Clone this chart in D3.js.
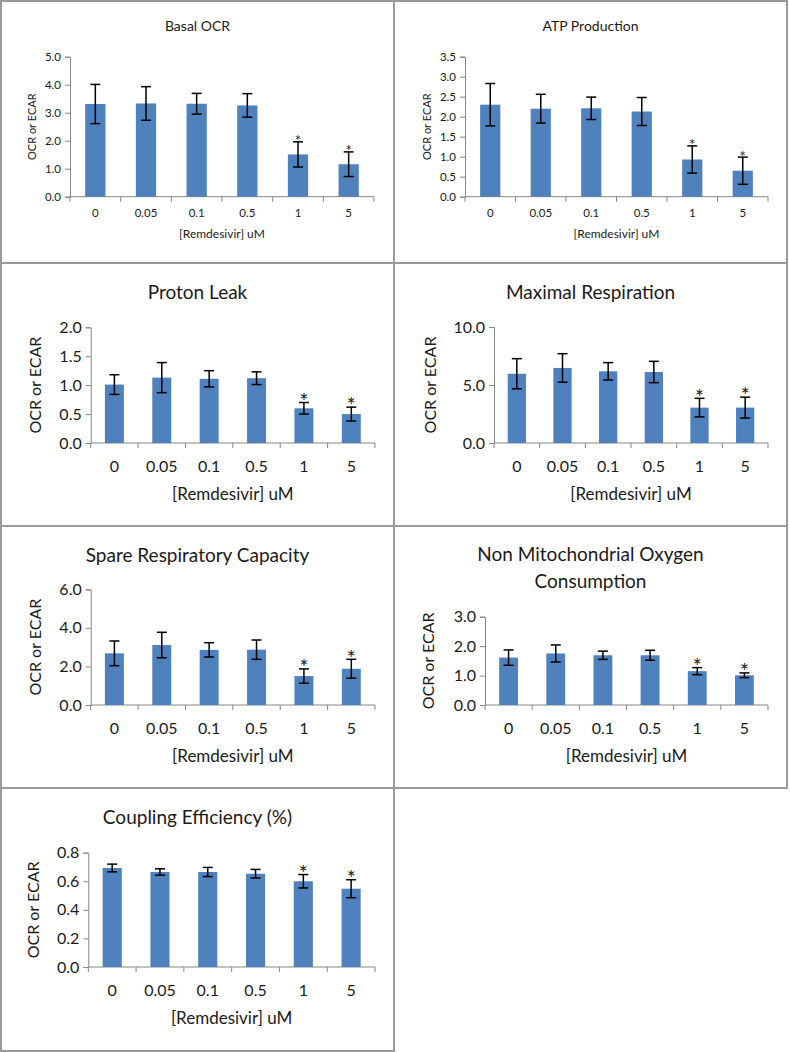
<!DOCTYPE html>
<html>
<head>
<meta charset="utf-8">
<script src="https://cdn.jsdelivr.net/npm/d3@7"></script>
<style>
  body { margin: 0; background: #fff; }
  svg { display: block; }
  text { font-family: Lato, "Open Sans", sans-serif; fill: #1a1a1a; }
</style>
</head>
<body>
<svg id="chart" width="790" height="1052"></svg>
<script>
// categories
const doses = ["0", "0.05", "0.1", "0.5", "1", "5"];
const significant = [false, false, false, false, true, true];

// values (mean and error)
const basalOcr = [3.31, 3.33, 3.32, 3.26, 1.51, 1.16];
const basalOcrErr = [0.70, 0.60, 0.37, 0.42, 0.45, 0.44];

const atpProduction = [2.30, 2.20, 2.21, 2.13, 0.93, 0.65];
const atpProductionErr = [0.53, 0.36, 0.28, 0.35, 0.34, 0.34];

const protonLeak = [1.01, 1.13, 1.11, 1.12, 0.60, 0.50];
const protonLeakErr = [0.17, 0.26, 0.14, 0.11, 0.10, 0.12];

const maximalResp = [5.97, 6.47, 6.18, 6.12, 3.05, 3.05];
const maximalRespErr = [1.30, 1.23, 0.75, 0.92, 0.80, 0.90];

const spareCapacity = [2.68, 3.11, 2.86, 2.87, 1.50, 1.88];
const spareCapacityErr = [0.64, 0.66, 0.37, 0.50, 0.37, 0.49];

const nonMito = [1.61, 1.75, 1.69, 1.69, 1.15, 1.01];
const nonMitoErr = [0.26, 0.29, 0.14, 0.17, 0.12, 0.08];

const coupling = [0.693, 0.665, 0.665, 0.653, 0.600, 0.548];
const couplingErr = [0.027, 0.022, 0.032, 0.030, 0.047, 0.063];

// tick labels
const basalTicks = [0, 1, 2, 3, 4, 5];
const atpTicks = [0, 0.5, 1, 1.5, 2, 2.5, 3, 3.5];
const leakTicks = [0, 0.5, 1, 1.5, 2];
const maxTicks = [0, 5, 10];
const spareTicks = [0, 2, 4, 6];
const nonMitoTicks = [0, 1, 2, 3];
const couplingTicks = [0, 0.2, 0.4, 0.6, 0.8];

const xTitle = "[Remdesivir] uM";
const yTitle = "OCR or ECAR";

const small = { title: 14, tick: 11.5, axis: 12, ytitle: 11, star: 15, tickGap: 16.5, xtitleGap: 37.5, cap: 5 };
const large = { title: 19, tick: 16, axis: 17, ytitle: 16, star: 21, tickGap: 23, xtitleGap: 51, cap: 5 };

const panels = [
  { title: ["Basal OCR"], values: basalOcr, err: basalOcrErr, ticks: basalTicks,
    box: [1, 1, 394, 263], plot: [70, 374, 196.7, 56.7], ytx: 32, tty: 26, st: small },
  { title: ["ATP Production"], values: atpProduction, err: atpProductionErr, ticks: atpTicks,
    box: [394, 1, 787, 263], plot: [465, 768, 196.7, 56.7], ytx: 427, tty: 26, st: small },
  { title: ["Proton Leak"], values: protonLeak, err: protonLeakErr, ticks: leakTicks,
    box: [1, 263, 394, 526], plot: [90.7, 375, 443, 327.3], ytx: 35, tty: 292, st: large },
  { title: ["Maximal Respiration"], values: maximalResp, err: maximalRespErr, ticks: maxTicks,
    box: [394, 263, 787, 526], plot: [494, 768, 443, 327], ytx: 430, tty: 292, st: large },
  { title: ["Spare Respiratory Capacity"], values: spareCapacity, err: spareCapacityErr, ticks: spareTicks,
    box: [1, 526, 394, 788], plot: [90.7, 375, 705, 589.3], ytx: 35, tty: 555.7, st: large },
  { title: ["Non Mitochondrial Oxygen", "Consumption"], values: nonMito, err: nonMitoErr, ticks: nonMitoTicks,
    box: [394, 526, 787, 788], plot: [485, 768, 705, 616.7], ytx: 428, tty: 554.3, st: large },
  { title: ["Coupling Efficiency (%)"], values: coupling, err: couplingErr, ticks: couplingTicks,
    box: [1, 788, 394, 1051], plot: [88.3, 375, 967, 852.7], ytx: 33, tty: 817.7, st: large }
];

const svg = d3.select("#chart");

function drawPanel(p) {
  const g = svg.append("g");
  const [bx0, by0, bx1, by1] = p.box;
  const [x0, x1, y0, y1] = p.plot;
  const st = p.st;

  g.append("rect")
    .attr("x", bx0).attr("y", by0)
    .attr("width", bx1 - bx0).attr("height", by1 - by0)
    .attr("fill", "none")
    .attr("stroke", "#9a9a9a")
    .attr("stroke-width", 2);

  const x = d3.scaleBand().domain(doses).range([x0, x1]).paddingInner(0.6).paddingOuter(0.3);
  const y = d3.scaleLinear().domain([0, d3.max(p.ticks)]).range([y0, y1]);

  // title
  g.append("text")
    .attr("x", (bx0 + bx1) / 2)
    .attr("y", p.tty)
    .attr("text-anchor", "middle")
    .attr("font-size", st.title)
    .selectAll("tspan")
    .data(p.title)
    .join("tspan")
      .attr("x", (bx0 + bx1) / 2)
      .attr("dy", (d, i) => i === 0 ? "0.35em" : "1.4em")
      .text(d => d);

  // y axis
  const yAxis = g.append("g")
    .attr("transform", `translate(${x0},0)`)
    .call(d3.axisLeft(y).tickValues(p.ticks).tickFormat(d3.format(".1f")).tickSize(5).tickPadding(4));
  yAxis.select(".domain").attr("stroke", "#868686");
  yAxis.selectAll(".tick line").attr("stroke", "#868686");
  yAxis.selectAll(".tick text")
    .attr("font-size", st.tick)
    .attr("font-family", "Lato")
    .attr("fill", "#1a1a1a");

  // x axis: line with ticks at category boundaries
  const bounds = d3.range(doses.length + 1).map(i => x0 + i * x.step());
  g.append("line")
    .attr("x1", x0).attr("x2", x1)
    .attr("y1", y0).attr("y2", y0)
    .attr("stroke", "#868686");
  g.selectAll(".xtick")
    .data(bounds)
    .join("line")
      .attr("x1", d => d).attr("x2", d => d)
      .attr("y1", y0).attr("y2", y0 + 5)
      .attr("stroke", "#868686");
  g.selectAll(".xlabel")
    .data(doses)
    .join("text")
      .attr("x", d => x(d) + x.bandwidth() / 2)
      .attr("y", y0 + st.tickGap)
      .attr("dy", "0.35em")
      .attr("text-anchor", "middle")
      .attr("font-size", st.tick)
      .text(d => d);

  // bars
  g.selectAll(".bar")
    .data(p.values)
    .join("rect")
      .attr("x", (d, i) => x(doses[i]))
      .attr("y", d => y(d))
      .attr("width", x.bandwidth())
      .attr("height", d => y0 - y(d))
      .attr("fill", "#4f81bd");

  // error bars
  const eb = g.selectAll(".err")
    .data(p.values.map((v, i) => ({ v, e: p.err[i], cx: x(doses[i]) + x.bandwidth() / 2, sig: significant[i] })))
    .join("g");
  eb.append("line")
    .attr("x1", d => d.cx).attr("x2", d => d.cx)
    .attr("y1", d => y(d.v + d.e)).attr("y2", d => y(d.v - d.e))
    .attr("stroke", "#000").attr("stroke-width", 1.5);
  eb.selectAll(".cap")
    .data(d => [d.v + d.e, d.v - d.e].map(t => ({ t, cx: d.cx })))
    .join("line")
      .attr("x1", d => d.cx - st.cap).attr("x2", d => d.cx + st.cap)
      .attr("y1", d => y(d.t)).attr("y2", d => y(d.t))
      .attr("stroke", "#000").attr("stroke-width", 1.5);
  eb.filter(d => d.sig)
    .append("text")
      .attr("x", d => d.cx)
      .attr("y", d => y(d.v + d.e) + st.star * 0.3)
      .attr("text-anchor", "middle")
      .attr("font-size", st.star)
      .text("*");

  // axis titles
  g.append("text")
    .attr("x", (x0 + x1) / 2)
    .attr("y", y0 + st.xtitleGap)
    .attr("dy", "0.35em")
    .attr("text-anchor", "middle")
    .attr("font-size", st.axis)
    .text(xTitle);
  g.append("text")
    .attr("transform", `translate(${p.ytx},${(y0 + y1) / 2}) rotate(-90)`)
    .attr("dy", "0.35em")
    .attr("text-anchor", "middle")
    .attr("font-size", st.ytitle)
    .text(yTitle);
}

panels.forEach(drawPanel);
</script>
</body>
</html>
